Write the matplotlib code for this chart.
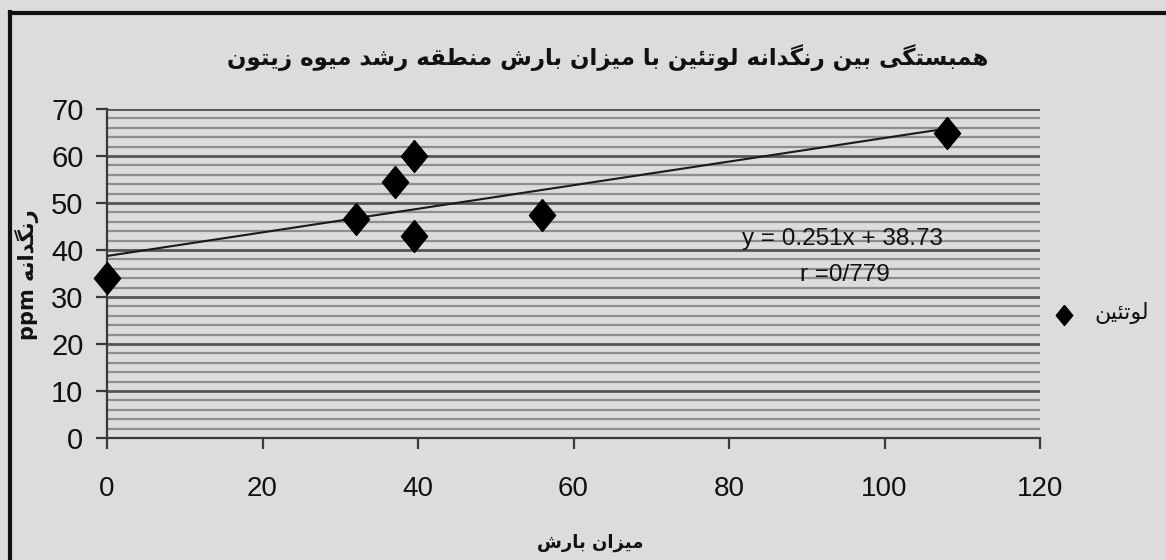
import matplotlib
matplotlib.use("Agg")
import matplotlib.pyplot as plt
from matplotlib.ticker import MultipleLocator
from matplotlib.lines import Line2D
from matplotlib import font_manager

# ---- data ----
rainfall = [0, 32, 37, 39.5, 39.5, 56, 108]
lutein = [34, 46.5, 54.5, 60, 43, 47.5, 65]
trend_slope = 0.251
trend_intercept = 38.73
x_ticks = [0, 20, 40, 60, 80, 100, 120]
y_ticks = [0, 10, 20, 30, 40, 50, 60, 70]
title_text = "همبستگی بین رنگدانه لوتئین با میزان بارش منطقه رشد میوه زیتون"
xlabel_text = "میزان بارش"
ylabel_text = "رنگدانه ppm"
legend_text = "لوتئین"
eq_text = "y = 0.251x + 38.73"
r_text = "r =0/779"

# ---- simple Arabic/Persian shaping for display ----
FORMS = {
    'ا': (0xFE8D, 0xFE8E),
    'ب': (0xFE8F, 0xFE90, 0xFE91, 0xFE92),
    'ت': (0xFE95, 0xFE96, 0xFE97, 0xFE98),
    'د': (0xFEA9, 0xFEAA),
    'ر': (0xFEAD, 0xFEAE),
    'ز': (0xFEAF, 0xFEB0),
    'س': (0xFEB1, 0xFEB2, 0xFEB3, 0xFEB4),
    'ش': (0xFEB5, 0xFEB6, 0xFEB7, 0xFEB8),
    'ط': (0xFEC1, 0xFEC2, 0xFEC3, 0xFEC4),
    'ق': (0xFED5, 0xFED6, 0xFED7, 0xFED8),
    'ل': (0xFEDD, 0xFEDE, 0xFEDF, 0xFEE0),
    'م': (0xFEE1, 0xFEE2, 0xFEE3, 0xFEE4),
    'ن': (0xFEE5, 0xFEE6, 0xFEE7, 0xFEE8),
    'ه': (0xFEE9, 0xFEEA, 0xFEEB, 0xFEEC),
    'و': (0xFEED, 0xFEEE),
    'ئ': (0xFE89, 0xFE8A, 0xFE8B, 0xFE8C),
    '\u06cc': (0xFBFC, 0xFBFD, 0xFBFE, 0xFBFF),
    'گ': (0xFB92, 0xFB93, 0xFB94, 0xFB95),
}


def shape_word(w):
    out = []
    n = len(w)
    for i, c in enumerate(w):
        if c not in FORMS:
            out.append(c)
            continue
        f = FORMS[c]
        prev_c = w[i - 1] if i > 0 else None
        next_c = w[i + 1] if i < n - 1 else None
        jp = prev_c in FORMS and len(FORMS[prev_c]) == 4
        jn = len(f) == 4 and next_c in FORMS
        if jp and jn:
            out.append(chr(f[3]))
        elif jp:
            out.append(chr(f[1]))
        elif jn:
            out.append(chr(f[2]))
        else:
            out.append(chr(f[0]))
    return "".join(out)


def rtl(text):
    toks = text.split(" ")
    res = []
    for t in toks:
        if any(ch in FORMS for ch in t):
            res.append(shape_word(t)[::-1])
        else:
            res.append(t)
    return " ".join(res[::-1])


def have(name):
    try:
        font_manager.findfont(name, fallback_to_default=False)
        return True
    except Exception:
        return False

num_font = "Liberation Sans" if have("Liberation Sans") else "DejaVu Sans"

BG = "#dcdcdc"
W, H = 1166, 560


def fx(px):
    return px / W


def fy(py):
    return 1 - py / H


# tall diamond marker
DIAMOND = [(0, 1), (0.82, 0), (0, -1), (-0.82, 0), (0, 1)]

fig = plt.figure(figsize=(W / 100, H / 100), dpi=100, facecolor=BG)
ax = fig.add_axes([fx(107), fy(438), (1040 - 107) / W, (438 - 109) / H])
ax.set_facecolor(BG)

ax.set_xlim(0, 120)
ax.set_ylim(0, 70)
ax.set_xticks(x_ticks)
ax.set_yticks(y_ticks)
ax.yaxis.set_minor_locator(MultipleLocator(2))
ax.grid(True, axis="y", which="minor", color="#8e8e8e", lw=1.6)
ax.grid(True, axis="y", which="major", color="#555555", lw=2.0)
ax.set_axisbelow(True)
for s in ["top", "right"]:
    ax.spines[s].set_visible(False)
for s in ["left", "bottom"]:
    ax.spines[s].set_color("#3a3a3a")
    ax.spines[s].set_linewidth(1.6)
ax.tick_params(axis="y", which="major", length=8, width=1.6, color="#3a3a3a", pad=9)
ax.tick_params(axis="y", which="minor", length=0)
ax.tick_params(axis="x", which="major", length=8, width=1.6, color="#3a3a3a", pad=19)
for lab in ax.get_yticklabels():
    lab.set_fontfamily(num_font)
    lab.set_fontsize(21)
    lab.set_color("#111111")
for lab in ax.get_xticklabels():
    lab.set_fontfamily(num_font)
    lab.set_fontsize(20)
    lab.set_color("#111111")

# trend line
tx = [0, max(rainfall)]
ty = [trend_intercept + trend_slope * v for v in tx]
ax.plot(tx, ty, color="#1a1a1a", lw=1.5, zorder=3)

# points
ax.plot(rainfall, lutein, linestyle="none", marker=DIAMOND, markersize=23,
        color="black", zorder=4, clip_on=False)

# equation
fig.text(fx(842), fy(239), eq_text, fontsize=17.5, family=num_font,
         ha="center", va="center", color="#111111")
fig.text(fx(845), fy(275), r_text, fontsize=17.5, family=num_font,
         ha="center", va="center", color="#111111")

# title
fig.text(fx(608), fy(58), rtl(title_text), fontsize=16.5, fontweight="bold",
         family="DejaVu Sans", ha="center", va="center", color="#111111")
# x label
fig.text(fx(590), fy(543), rtl(xlabel_text), fontsize=13, fontweight="bold",
         family="DejaVu Sans", ha="center", va="center", color="#111111")
# y label
fig.text(fx(27), fy(275), rtl(ylabel_text), fontsize=15, fontweight="bold",
         family="DejaVu Sans", ha="center", va="center", rotation=90, color="#111111")

# legend
fig.lines.append(Line2D([fx(1064)], [fy(315)], transform=fig.transFigure,
                        marker=DIAMOND, markersize=14.5, color="black", linestyle="none"))
fig.text(fx(1094), fy(313), rtl(legend_text), fontsize=16,
         family="DejaVu Sans", ha="left", va="center", color="#111111")

# outer border (top and left only)
fig.lines.append(Line2D([fx(10), fx(10)], [fy(12), -0.05], transform=fig.transFigure,
                        color="#111111", lw=3))
fig.lines.append(Line2D([fx(10), 1.05], [fy(13), fy(13)], transform=fig.transFigure,
                        color="#111111", lw=3))

fig.savefig("out.png", dpi=100, facecolor=BG)
